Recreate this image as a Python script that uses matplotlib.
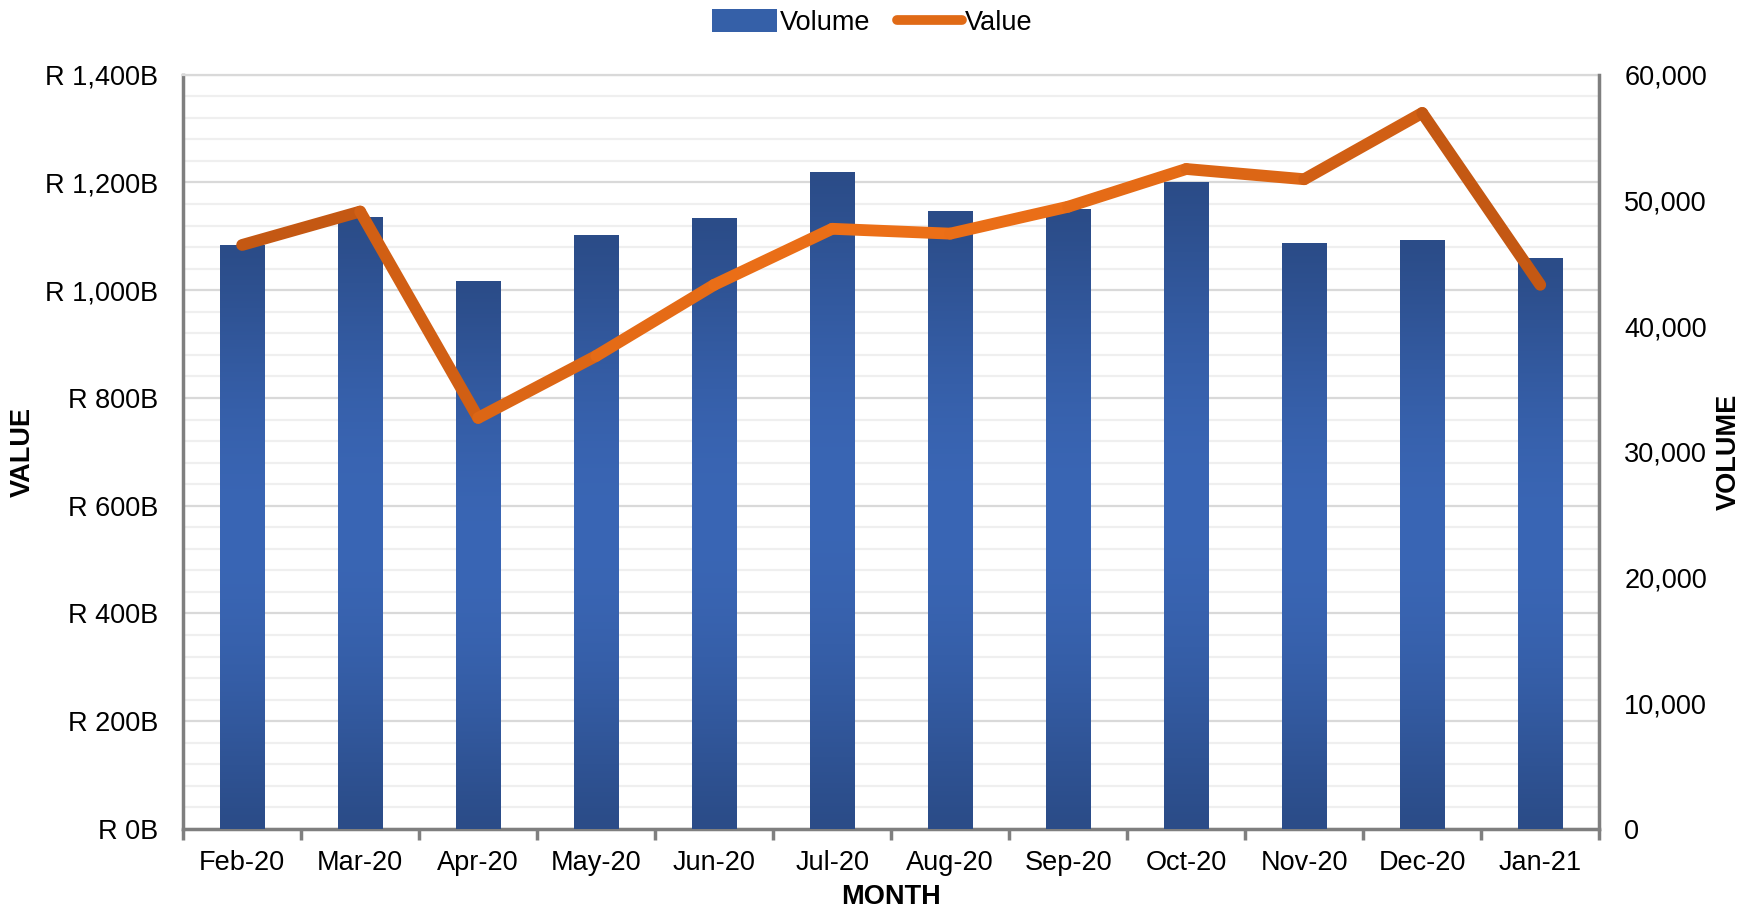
import numpy as np
import matplotlib
matplotlib.use("Agg")
from matplotlib import pyplot as plt
from matplotlib.collections import LineCollection
from matplotlib.patches import Patch
from matplotlib.lines import Line2D
from matplotlib.ticker import MultipleLocator, FuncFormatter, FixedLocator
from matplotlib.colors import to_rgb

plt.rcParams['font.family'] = ['Liberation Sans', 'DejaVu Sans']

months = ['Feb-20', 'Mar-20', 'Apr-20', 'May-20', 'Jun-20', 'Jul-20',
          'Aug-20', 'Sep-20', 'Oct-20', 'Nov-20', 'Dec-20', 'Jan-21']
volume = [46470, 48700, 43600, 47270, 48620, 52280,
          49180, 49340, 51490, 46630, 46850, 45440]
value_bn = [1084, 1146, 763, 878, 1010, 1114,
            1105, 1155, 1225, 1206, 1329, 1010]

bar_dark = np.array(to_rgb('#2b4c88'))
bar_light = np.array(to_rgb('#3a66b5'))
line_dark = np.array(to_rgb('#bd5412'))
line_light = np.array(to_rgb('#ec6f17'))
grey = '#7f7f7f'
fs_txt = 19.5

fig = plt.figure(figsize=(17.44, 9.11), dpi=100)
ax = fig.add_axes([0.105, 0.090, 0.812, 0.828])
ax2 = ax.twinx()
ax3 = ax.twinx()

x = np.arange(len(months))

# left axis: value, gridlines
ax.set_xlim(-0.5, len(months) - 0.5)
ax.set_ylim(0, 1400)
ax.yaxis.set_major_locator(MultipleLocator(200))
ax.yaxis.set_minor_locator(MultipleLocator(40))
ax.yaxis.set_major_formatter(FuncFormatter(lambda v, p: 'R {:,.0f}B'.format(v)))
ax.grid(which='major', axis='y', color='#d9d9d9', lw=1.6)
ax.grid(which='minor', axis='y', color='#efefef', lw=1.6)
ax.set_axisbelow(True)
ax.tick_params(axis='y', which='both', length=0, labelsize=fs_txt, pad=18)

ax.xaxis.set_major_locator(FixedLocator(np.arange(-0.5, len(months), 1)))
ax.xaxis.set_major_formatter(FuncFormatter(lambda v, p: ''))
ax.xaxis.set_minor_locator(FixedLocator(x))
ax.set_xticklabels(months, minor=True)
ax.tick_params(axis='x', which='major', length=8, width=2.5, color=grey, direction='out')
ax.tick_params(axis='x', which='minor', length=0, labelsize=fs_txt, pad=15)

for s in ['left', 'bottom']:
    ax.spines[s].set_color(grey)
    ax.spines[s].set_linewidth(2.5)
ax.spines['right'].set_visible(False)
ax.spines['top'].set_color('#d9d9d9')
ax.spines['top'].set_linewidth(1.6)

ax.set_ylabel('VALUE', fontsize=fs_txt, fontweight='bold')
ax.yaxis.set_label_coords(-0.104, 0.5)
ax.set_xlabel('MONTH', fontsize=fs_txt, fontweight='bold', labelpad=6)

# right axis: volume bars with vertical gradient
ax2.set_ylim(0, 60000)
ax2.yaxis.set_major_locator(MultipleLocator(10000))
ax2.yaxis.set_major_formatter(FuncFormatter(lambda v, p: '{:,.0f}'.format(v)))
ax2.tick_params(axis='y', length=0, labelsize=fs_txt, pad=18)
for s in ['left', 'bottom', 'top']:
    ax2.spines[s].set_visible(False)
ax2.spines['right'].set_color(grey)
ax2.spines['right'].set_linewidth(2.5)
ax2.set_ylabel('VOLUME', fontsize=fs_txt, fontweight='bold')
ax2.yaxis.set_label_coords(1.082, 0.5)

bars = ax2.bar(x, volume, width=0.38, color=bar_dark, edgecolor='none')
t = np.linspace(0, 1, 256)
f = np.sin(np.pi * t) ** 1.2
grad = bar_dark[None, :] + (bar_light - bar_dark)[None, :] * f[:, None]
grad = grad[:, None, :]
for b in bars:
    x0, w, h = b.get_x(), b.get_width(), b.get_height()
    im = ax2.imshow(grad, extent=[x0, x0 + w, 0, h], origin='lower',
                    aspect='auto', zorder=2)
    im.set_clip_path(b)
ax2.set_xlim(-0.5, len(months) - 0.5)

# line layer on top, same scale as left axis
ax3.set_ylim(0, 1400)
ax3.set_xlim(-0.5, len(months) - 0.5)
ax3.axis('off')
pts = np.column_stack([x, value_bn])
segs = np.stack([pts[:-1], pts[1:]], axis=1)
mids = (x[:-1] + x[1:]) / 2 / (len(months) - 1)
fs = np.sin(np.pi * mids)
cols = [line_dark + (line_light - line_dark) * v for v in fs]
lc = LineCollection(segs, colors=cols, linewidths=8.5, capstyle='round', joinstyle='round')
ax3.add_collection(lc)

handles = [Patch(facecolor='#3560a8', edgecolor='none'),
           Line2D([0], [0], color='#e06a16', lw=7, solid_capstyle='round')]
fig.legend(handles, ['Volume', 'Value'], loc='center', bbox_to_anchor=(0.5, 0.975),
           ncol=2, frameon=False, fontsize=fs_txt, handlelength=2.4, handleheight=0.9,
           handletextpad=0.1, columnspacing=1.0)

fig.savefig('out.png', dpi=100)
